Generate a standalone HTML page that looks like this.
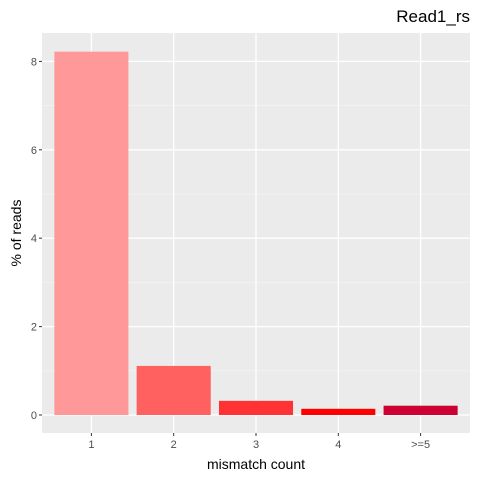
<!DOCTYPE html>
<html><head><meta charset="utf-8"><style>
body{margin:0;background:#fff}
text{font-family:"Liberation Sans",sans-serif}
</style></head><body>
<svg id="c" width="480" height="480" xmlns="http://www.w3.org/2000/svg">
<rect width="480" height="480" fill="#fff"/>
<text x="470" y="22" text-anchor="end" font-size="17" fill="#000">Read1_rs</text>
<rect x="42" y="33" width="428" height="400" fill="#EBEBEB"/>
<g id="grid"></g><g id="bars"></g><g id="axes"></g>
<text x="256" y="469" text-anchor="middle" font-size="14">mismatch count</text>
<text transform="translate(21,233) rotate(-90)" text-anchor="middle" font-size="14">% of reads</text>
</svg>
<script>
const categories=["1","2","3","4",">=5"];
const values=[8.22,1.11,0.32,0.14,0.21];
const colors=["#FF9999","#FF6161","#FF3333","#FF0000","#CC0033"];
const yTicks=[0,2,4,6,8];
const yMinor=[1,3,5,7];
const ns="http://www.w3.org/2000/svg";
const L=42,R=470,T=33,B=433;
const y0=415,pxPer=44.2;
const y=v=>y0-v*pxPer;
const step=(R-L)/(categories.length+0.2);
const x=i=>L+step*0.6+i*step;
const bw=step*0.9;
function mk(tag,attrs,parent){const e=document.createElementNS(ns,tag);for(const k in attrs)e.setAttribute(k,attrs[k]);document.getElementById(parent).appendChild(e);return e;}
yMinor.forEach(v=>{const e=mk("line",{x1:L,x2:R,y1:y(v),y2:y(v),stroke:"#F5F5F5","stroke-width":0.7},"grid");

});
yTicks.forEach(v=>{const e=mk("line",{x1:L,x2:R,y1:y(v),y2:y(v),stroke:"#fff","stroke-width":1.3},"grid");


const t=mk("line",{x1:L-3,x2:L,y1:y(v),y2:y(v),stroke:"#333","stroke-width":1},"axes");


const l=mk("text",{x:L-5,y:y(v)+4,"text-anchor":"end","font-size":11,fill:"#4D4D4D"},"axes");
l.textContent=v;

});
categories.forEach((c,i)=>{const g=mk("line",{x1:x(i),x2:x(i),y1:T,y2:B,stroke:"#fff","stroke-width":1.3},"grid");


const b=mk("rect",{x:x(i)-bw/2,y:y(values[i]),width:bw,height:y(0)-y(values[i]),fill:colors[i]},"bars");


const t=mk("line",{x1:x(i),x2:x(i),y1:B,y2:B+3,stroke:"#333","stroke-width":1},"axes");


const l=mk("text",{x:x(i),y:B+15,"text-anchor":"middle","font-size":11,fill:"#4D4D4D"},"axes");
l.textContent=c;

});
</script>
</body></html>
